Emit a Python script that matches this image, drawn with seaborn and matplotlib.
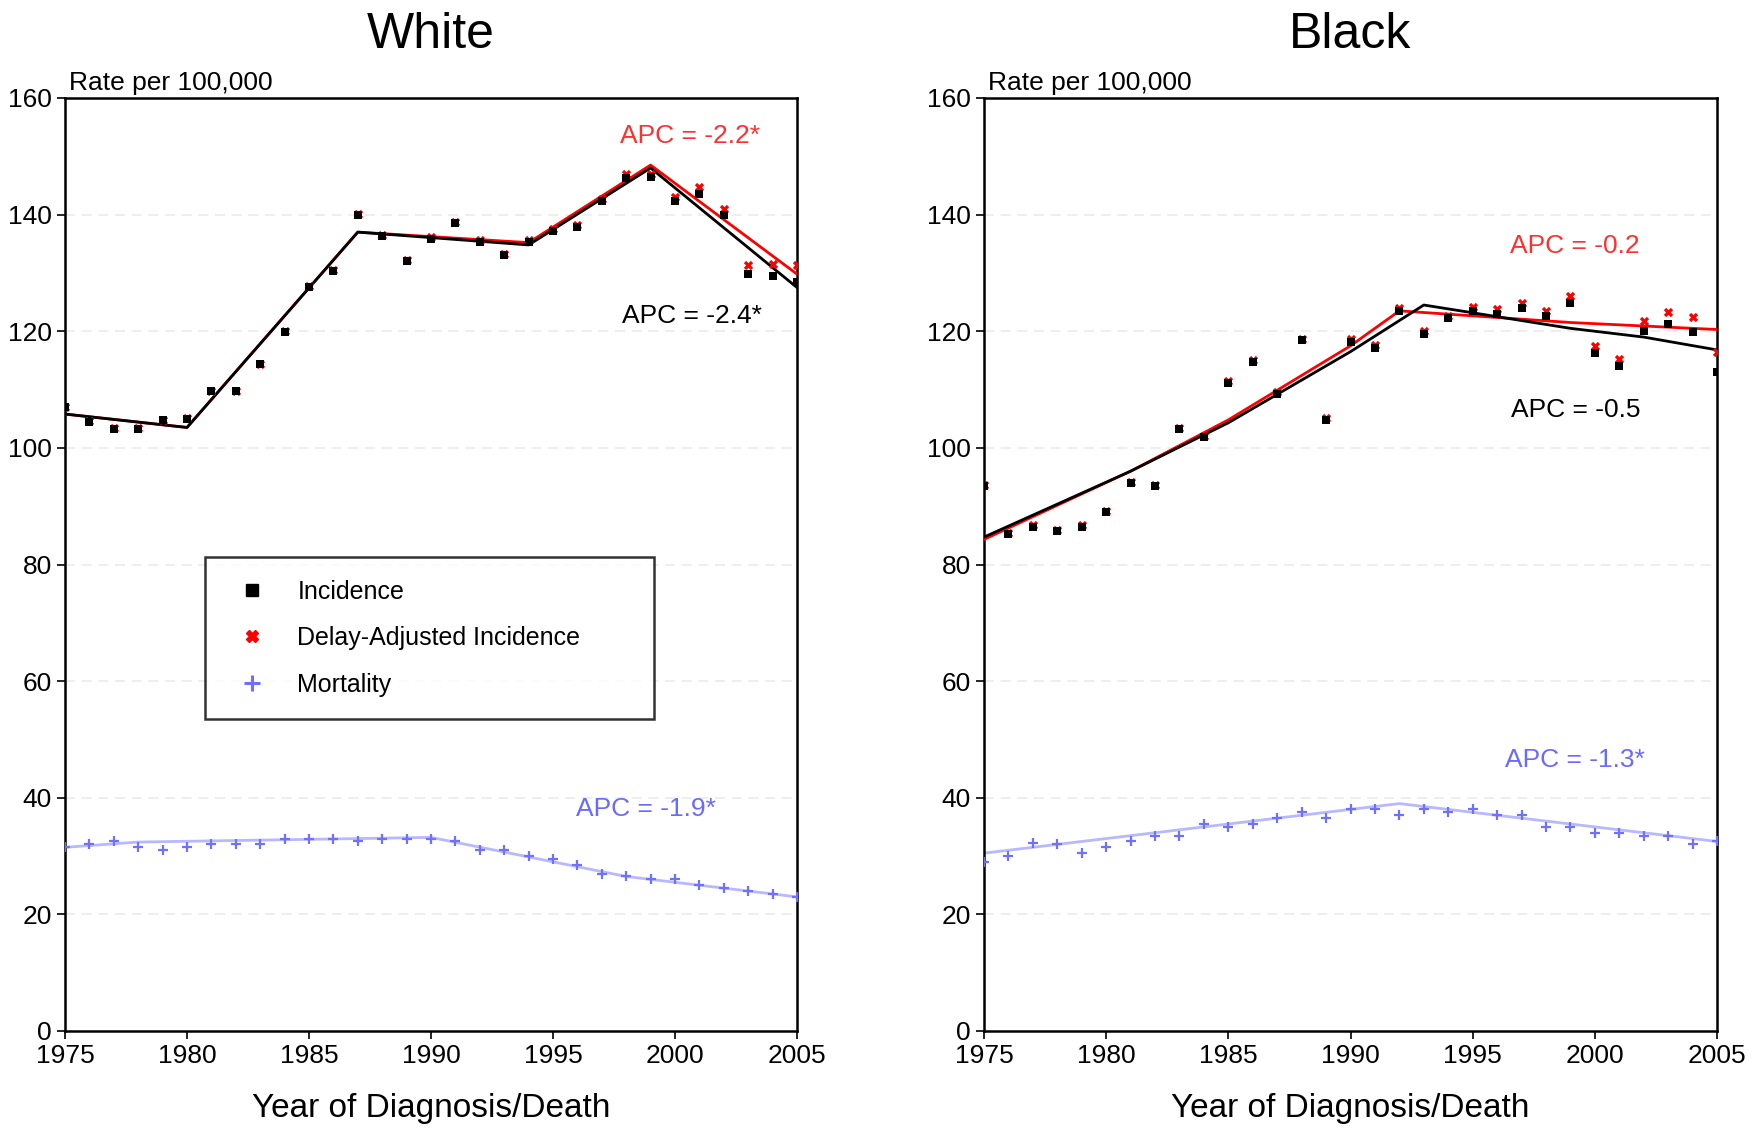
import numpy as np
import pandas as pd
import matplotlib
matplotlib.use("Agg")
import matplotlib.pyplot as plt
import seaborn as sns
from matplotlib.lines import Line2D

sns.set_style("white")
plt.rcParams['font.family'] = ['Liberation Sans', 'DejaVu Sans']
plt.rcParams['text.color'] = 'black'
plt.rcParams['xtick.color'] = 'black'
plt.rcParams['ytick.color'] = 'black'
plt.rcParams['axes.labelcolor'] = 'black'

years = list(range(1975, 2006))

# ---- White ----
w_inc = [107, 104.5, 103.3, 103.3, 104.7, 105, 109.7, 109.7, 114.3, 119.8, 127.6, 130.4, 140, 136.3, 132.1,
         135.9, 138.6, 135.3, 133.1, 135.3, 137.2, 137.8, 142.3, 146.3, 146.4, 142.3, 143.6, 140, 129.8, 129.5, 128.5]
w_del = [107, 104.6, 103.4, 103.4, 104.8, 105.2, 109.8, 109.8, 114.4, 120, 127.7, 130.5, 140.1, 136.5, 132.3,
         136.2, 138.8, 135.7, 133.3, 135.7, 137.6, 138.2, 142.6, 146.9, 147, 143.1, 144.7, 141, 131.3, 131.5, 131.3]
w_mort = [31.5, 32, 32.5, 31.5, 31, 31.5, 32, 32, 32, 33, 33, 33, 32.5, 33, 33, 33, 32.5, 31, 31, 30, 29.5,
          28.5, 27, 26.5, 26, 26, 25, 24.5, 24, 23.5, 23]
w_fit_inc_x = [1975, 1980, 1987, 1994, 1999, 2005]
w_fit_inc_y = [105.8, 103.5, 137, 134.8, 148, 127.5]
w_fit_del_x = [1975, 1980, 1987, 1994, 1999, 2005]
w_fit_del_y = [105.8, 103.5, 137, 135.2, 148.5, 129.8]
w_fit_mort_x = [1975, 1978, 1990, 1998, 2005]
w_fit_mort_y = [31.5, 32.4, 33.2, 26.5, 23]

# ---- Black ----
b_inc = [93.5, 85.3, 86.5, 85.7, 86.5, 89, 94, 93.5, 103.2, 101.8, 111.2, 114.8, 109.2, 118.5, 104.8,
         118.2, 117.2, 123.5, 119.5, 122.2, 123.5, 123, 124, 122.7, 124.8, 116.2, 114, 120, 121.2, 119.8, 113]
b_del = [93.6, 85.4, 86.7, 85.9, 86.8, 89.2, 94.2, 93.7, 103.4, 102, 111.5, 115.1, 109.5, 118.7, 105.2,
         118.6, 117.6, 124, 120, 122.6, 124.2, 123.8, 124.8, 123.5, 126, 117.5, 115.2, 121.8, 123.3, 122.5, 116.5]
b_mort = [29, 30, 32.3, 32, 30.5, 31.5, 32.5, 33.5, 33.5, 35.5, 35, 35.5, 36.5, 37.5, 36.5, 38, 38, 37, 38,
          37.5, 38, 37, 37, 35, 35, 34, 34, 33.5, 33.5, 32, 32.5]
b_fit_inc_x = [1975, 1981, 1985, 1990, 1993, 1999, 2002, 2005]
b_fit_inc_y = [84.7, 96, 104.3, 116.5, 124.5, 120.5, 119, 116.8]
b_fit_del_x = [1975, 1981, 1985, 1990, 1992, 1999, 2005]
b_fit_del_y = [84.3, 96, 104.8, 117.5, 123.5, 121.5, 120.3]
b_fit_mort_x = [1975, 1992, 2005]
b_fit_mort_y = [30.5, 39, 32.5]

panels = [
    ("White", w_inc, w_del, w_mort, (w_fit_inc_x, w_fit_inc_y), (w_fit_del_x, w_fit_del_y), (w_fit_mort_x, w_fit_mort_y),
     [("APC = -2.2*", 2000.6, 151.5, "#ff3030"), ("APC = -2.4*", 2000.7, 120.5, "black"), ("APC = -1.9*", 1998.8, 36.0, "#6a6aff")]),
    ("Black", b_inc, b_del, b_mort, (b_fit_inc_x, b_fit_inc_y), (b_fit_del_x, b_fit_del_y), (b_fit_mort_x, b_fit_mort_y),
     [("APC = -0.2", 1999.2, 132.5, "#ff3030"), ("APC = -0.5", 1999.2, 104.5, "black"), ("APC = -1.3*", 1999.2, 44.5, "#6a6aff")]),
]

fig = plt.figure(figsize=(17.58, 11.3), dpi=100)
ax_pos = [[65 / 1758, 1 - 1031 / 1130, 732 / 1758, 933 / 1130],
          [984 / 1758, 1 - 1031 / 1130, 733 / 1758, 933 / 1130]]

for pos, (title, inc, dl, mort, fi, fd, fm, apcs) in zip(ax_pos, panels):
    ax = fig.add_axes(pos)
    df = pd.DataFrame({"year": years, "inc": inc, "del": dl, "mort": mort})
    for v in range(20, 161, 20):
        ax.axhline(v, color="#ebebeb", lw=1.2, ls=(0, (6, 4)), zorder=0)
    sns.lineplot(x=fm[0], y=fm[1], ax=ax, color="#b8b8ff", lw=2, zorder=2)
    sns.lineplot(x=fd[0], y=fd[1], ax=ax, color="#ff0000", lw=2, zorder=3)
    sns.lineplot(x=fi[0], y=fi[1], ax=ax, color="black", lw=2, zorder=3)
    sns.scatterplot(data=df, x="year", y="del", ax=ax, marker="X", color="#ff0000", s=45, linewidth=0, zorder=4)
    sns.scatterplot(data=df, x="year", y="inc", ax=ax, marker="s", color="black", s=40, linewidth=0, zorder=5)
    sns.scatterplot(data=df, x="year", y="mort", ax=ax, marker="+", color="#7070ff", s=50, linewidth=1.6, zorder=5)
    for txt, x, y, c in apcs:
        ax.text(x, y, txt, color=c, fontsize=19, ha="center", va="bottom")
    ax.set_xlim(1975, 2005)
    ax.set_ylim(0, 160)
    ax.set_xticks(range(1975, 2006, 5))
    ax.set_yticks(range(0, 161, 20))
    ax.tick_params(labelsize=19, direction="out", length=6, width=1.2, left=True, bottom=True)
    for s in ax.spines.values():
        s.set_linewidth(1.8)
        s.set_color("black")
    ax.set_xlabel("Year of Diagnosis/Death", fontsize=24, labelpad=18)
    ax.set_ylabel("")
    ax.set_title(title, fontsize=36, pad=36, color="black")
    ax.text(0.005, 1.003, "Rate per 100,000", transform=ax.transAxes, fontsize=19, va="bottom")
    if title == "White":
        handles = [Line2D([], [], marker="s", color="black", ls="", ms=9),
                   Line2D([], [], marker="X", color="#ff0000", ls="", ms=9),
                   Line2D([], [], marker="+", color="#7070ff", ls="", ms=11, mew=2.2)]
        leg = ax.legend(handles, ["Incidence", "Delay-Adjusted Incidence", "Mortality"],
                        loc="upper left", bbox_to_anchor=(0.191, 0.338, 0.613, 0.17),
                        bbox_transform=ax.transAxes, mode="expand",
                        fontsize=18, frameon=True, fancybox=False, edgecolor="black",
                        borderpad=0.9, labelspacing=0.9, handletextpad=0.8, borderaxespad=0)
        leg.get_frame().set_linewidth(1.8)

fig.savefig("out.png", dpi=100)
